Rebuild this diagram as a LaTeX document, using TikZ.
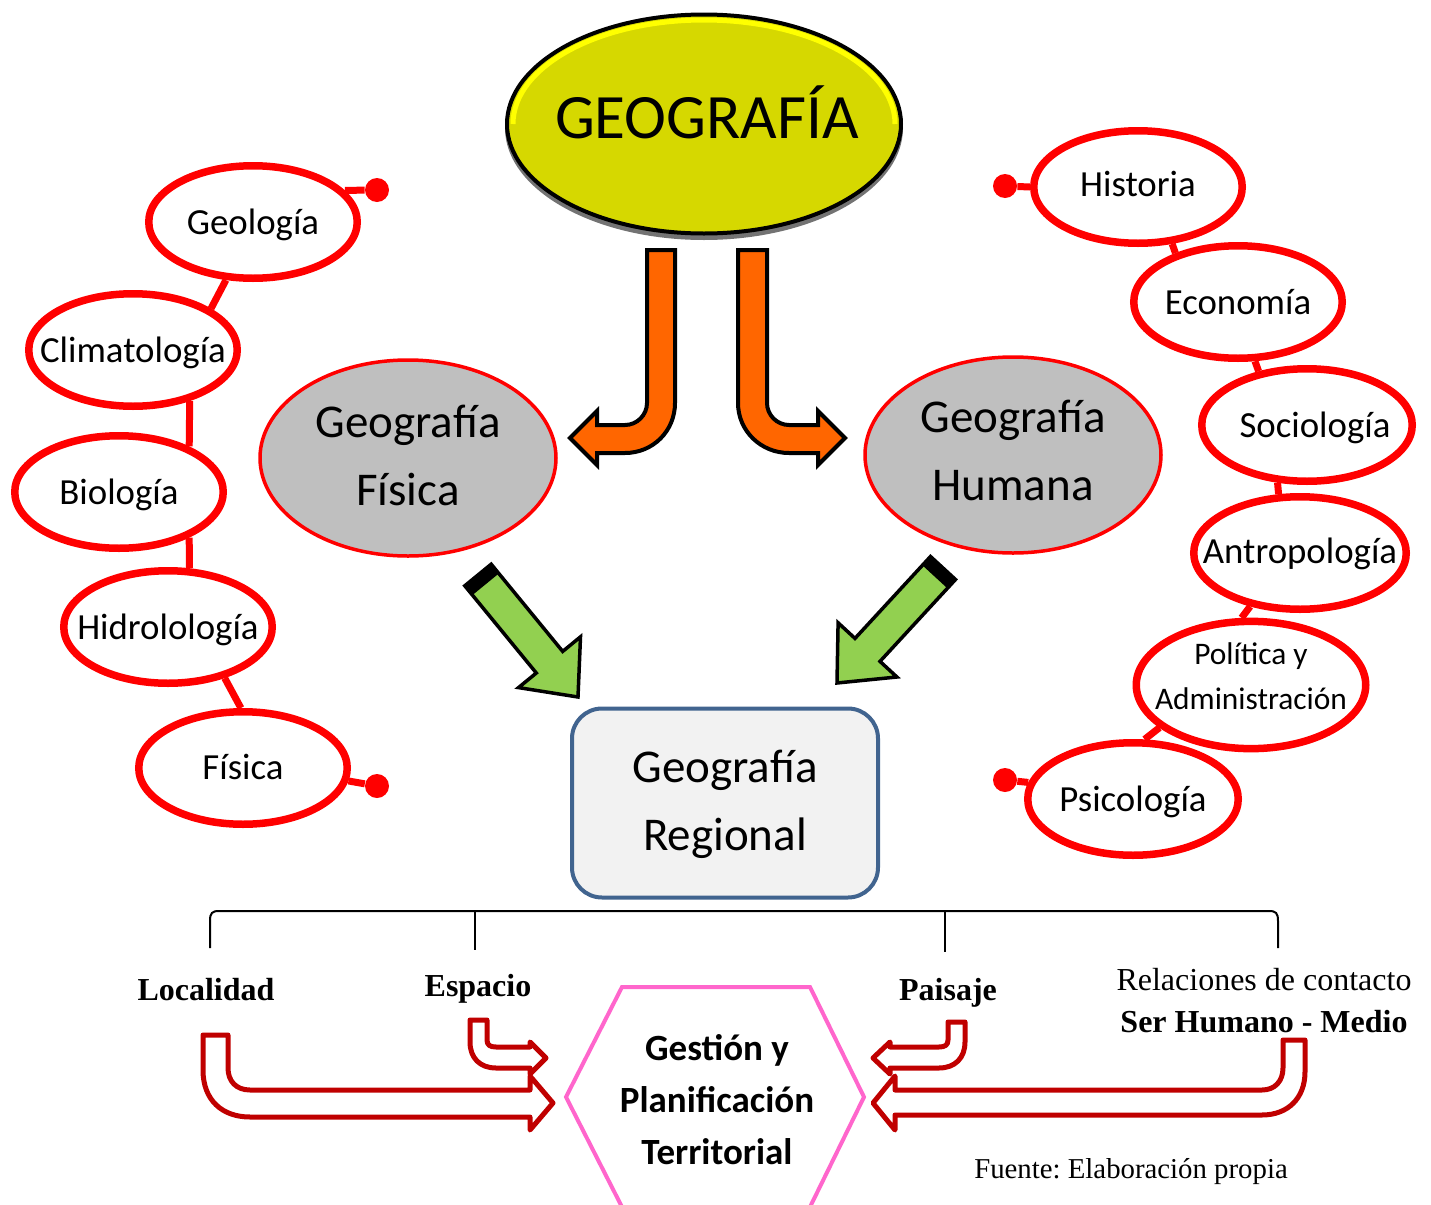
\documentclass[tikz,border=0pt]{standalone}
\usepackage{fontspec}
\setmainfont{Carlito}
\newfontfamily\serifx{Liberation Serif}
\usetikzlibrary{shapes.geometric}
\definecolor{geoy}{HTML}{D6D800}
\definecolor{rimy}{HTML}{FFFF00}
\definecolor{oran}{HTML}{FF6600}
\definecolor{grn}{HTML}{92D050}
\definecolor{grayf}{HTML}{BFBFBF}
\definecolor{regf}{HTML}{F2F2F2}
\definecolor{regb}{HTML}{41648F}
\definecolor{dred}{HTML}{C00000}
\definecolor{pnk}{HTML}{FF66CC}
\newcommand{\zw}[2][0pt]{\makebox[0pt][c]{\raisebox{#1}[\height][\depth]{\begin{tabular}{@{}c@{}}#2\end{tabular}}}}
\frenchspacing
\tikzset{
  topell/.style={ellipse, draw=black, line width=2pt, fill=geoy, minimum width=197pt, minimum height=109.5pt, inner sep=0pt},
  grayell/.style={ellipse, draw=red, line width=1.75pt, fill=grayf, minimum width=148pt, minimum height=98pt, inner sep=0pt, font=\fontsize{23.5}{34}\selectfont},
  regbox/.style={rectangle, rounded corners=15pt, draw=regb, line width=2pt, fill=regf, minimum width=153pt, minimum height=94.5pt, inner sep=0pt, font=\fontsize{23.5}{34}\selectfont},
  chainell/.style={ellipse, draw=red, line width=3.75pt, fill=white, minimum width=104.25pt, minimum height=56.25pt, inner sep=0pt, font=\fontsize{18.4}{22}\selectfont},
  chainline/.style={draw=red, line width=3.5pt},
  dotnode/.style={circle, fill=red, inner sep=0pt, minimum size=12pt},
  orarrow/.style={fill=oran, draw=black, line width=2pt, line join=miter},
  grarrow/.style={fill=grn, draw=black, line width=1.75pt, line join=miter},
  redarrow/.style={fill=white, draw=dred, line width=2.5pt, line join=round},
  serb/.style={font=\serifx\bfseries\fontsize{16}{19}\selectfont, inner sep=0pt, anchor=base},
  serr/.style={font=\serifx\fontsize{16}{19}\selectfont, inner sep=0pt, anchor=base},
  brk/.style={draw=black, line width=1pt}
}
\begin{document}
\begin{tikzpicture}[x=0.5pt,y=-0.5pt]
\useasboundingbox (0,0) rectangle (1431,1205);
\clip (0,0) rectangle (1431,1205);

% main ellipse
\fill[black!55] (704,128) ellipse [x radius=199, y radius=112];
\node[topell] (geo) at (704,124) {};
\draw[rimy, line width=2.5pt] (geo.center) ++(-191,0) arc[start angle=180, end angle=360, x radius=191, y radius=104];
\node[font=\fontsize{31.6}{38}\selectfont, inner sep=0pt, anchor=base] (geot) at (707,138) {GEOGRAFÍA};

% orange bent arrows
\path[orarrow] (647,250) -- (675,250) -- (675,403) .. controls (675,431) and (653,453) .. (625,453) -- (597,453) -- (597,465) -- (570,438) -- (597,411) -- (597,425) -- (625,425) .. controls (637,425) and (647,415) .. (647,403) -- cycle;
\path[orarrow] (738,250) -- (767,250) -- (767,403) .. controls (767,415) and (777,425) .. (789,425) -- (818,425) -- (818,411) -- (845,438) -- (818,465) -- (818,453) -- (789,453) .. controls (761,453) and (738,431) .. (738,403) -- cycle;

% gray ellipses and regional box
\node[grayell] (gf) at (408,458) {\zw{Geografía\\Física}};
\node[grayell] (gh) at (1013,455) {\zw[1pt]{Geografía\\Humana}};
\node[regbox] (gr) at (725,803) {\zw{Geografía\\Regional}};

% green arrows
\path[grarrow] (491.2,564.2) -- (562.7,651.4) -- (580.5,636.8) -- (578,697) -- (518.5,687.6) -- (536.3,673.0) -- (464.8,585.8) -- cycle;
\fill[black] (491.2,564.2) -- (498.8,573.5) -- (472.4,595.1) -- (464.8,585.8) -- cycle;
\path[grarrow] (955.5,579.5) -- (880.0,661.4) -- (896.9,677.0) -- (837,683) -- (838.1,622.8) -- (855.0,638.4) -- (930.5,556.5) -- cycle;
\fill[black] (955.5,579.5) -- (947.4,588.3) -- (922.4,565.3) -- (930.5,556.5) -- cycle;

% left chain
\node[chainell] (gl) at (253,222) {\zw[-2pt]{Geología}};
\node[chainell] (cl) at (133,350) {\zw[-2pt]{Climatología}};
\node[chainell] (bl) at (119,492) {\zw[-2pt]{Biología}};
\node[chainell] (hl) at (168,627) {\zw[-2pt]{Hidrolología}};
\node[chainell] (fl) at (243,768) {\zw[-1.5pt]{Física}};
\node[dotnode] (d1) at (377,190) {};
\node[dotnode] (d2) at (377,786) {};
\draw[chainline] (gl.245) -- (cl.28);
\draw[chainline] (cl.318) -- (bl.33);
\draw[chainline] (bl.327) -- (hl.70);
\draw[chainline] (hl.318) -- (fl.92);
\draw[chainline] (gl.19) -- (d1);
\draw[chainline] (fl.353) -- (d2);

% right chain
\node[chainell] (hi) at (1138,187) {\zw[-0.5pt]{Historia}};
\node[chainell] (ec) at (1238,302) {\zw[-2pt]{Economía}};
\node[chainell, minimum width=105.25pt] (so) at (1307,425) {\zw[-2pt]{\hspace*{8pt}Sociología}};
\node[chainell, minimum width=106.25pt] (an) at (1300,553) {\zw[-1pt]{Antropología}};
\node[chainell, minimum width=114.75pt, font=\fontsize{15.7}{22.5}\selectfont] (po) at (1251,685) {\zw[3.5pt]{Política y\\Administración}};
\node[chainell, minimum width=105.25pt] (ps) at (1133,799) {\zw[-2pt]{Psicología}};
\node[dotnode] (d3) at (1005,186) {};
\node[dotnode] (d4) at (1005,780) {};
\draw[chainline] (hi.301) -- (ec.142);
\draw[chainline] (ec.286) -- (so.132);
\draw[chainline] (so.243) -- (an.110);
\draw[chainline] (an.227) -- (po.98);
\draw[chainline] (po.205) -- (ps.79);
\draw[chainline] (hi.180) -- (d3);
\draw[chainline] (ps.171) -- (d4);

% bracket
\coordinate (b1) at (210,948);
\coordinate (b2) at (475,950);
\coordinate (b3) at (945,952);
\coordinate (b4) at (1278,948);
\draw[brk] (b1) -- (210,921) .. controls (210,913) and (212,911) .. (219,911) -- (1269,911) .. controls (1276,911) and (1278,913) .. (1278,921) -- (b4);
\draw[brk] (475,911) -- (b2);
\draw[brk] (945,911) -- (b3);

% labels
\node[serb] (loc) at (206,1000) {Localidad};
\node[serb] (esp) at (478,996) {Espacio};
\node[serb] (pai) at (948,1000) {Paisaje};
\node[serr] (rel1) at (1264,990) {Relaciones de contacto};
\node[serb] (rel2) at (1264,1032) {Ser Humano - Medio};
\node[serr, font=\serifx\fontsize{14.4}{17}\selectfont] (fte) at (1131,1178) {Fuente: Elaboración propia};

% hexagon
\draw[pnk, line width=2pt, line join=miter] (566,1097) -- (622,987) -- (810,987) -- (864,1097) -- (810,1207) -- (622,1207) -- cycle;
\node[font=\bfseries\fontsize{18.5}{26}\selectfont, align=center, inner sep=0pt] (gpt) at (717,1100) {Gestión y\\Planificación\\Territorial};

% red hollow arrows
\path[redarrow] (203,1035) -- (228,1035) -- (228,1068) .. controls (228,1081) and (236,1090) .. (250,1090) -- (530,1090) -- (530,1076) -- (553,1103) -- (530,1130) -- (530,1117) -- (250,1117) .. controls (222,1117) and (203,1100) .. (203,1070) -- cycle;
\path[redarrow] (470,1020) -- (487,1020) -- (487,1040) .. controls (487,1045) and (490,1047) .. (496,1047) -- (530,1047) -- (530,1042) -- (546,1058) -- (530,1074) -- (530,1068) -- (496,1068) .. controls (480,1068) and (470,1058) .. (470,1042) -- cycle;
\path[redarrow] (965,1022) -- (948,1022) -- (948,1040) .. controls (948,1045) and (945,1047) .. (939,1047) -- (890,1047) -- (890,1042) -- (873,1058) -- (890,1074) -- (890,1068) -- (939,1068) .. controls (955,1068) and (965,1058) .. (965,1042) -- cycle;
\path[redarrow] (1305,1040) -- (1283,1040) -- (1283,1068) .. controls (1283,1081) and (1275,1090) .. (1262,1090) -- (895,1090) -- (895,1076) -- (873,1103) -- (895,1130) -- (895,1115) -- (1262,1115) .. controls (1288,1115) and (1305,1098) .. (1305,1072) -- cycle;
\end{tikzpicture}
\end{document}
